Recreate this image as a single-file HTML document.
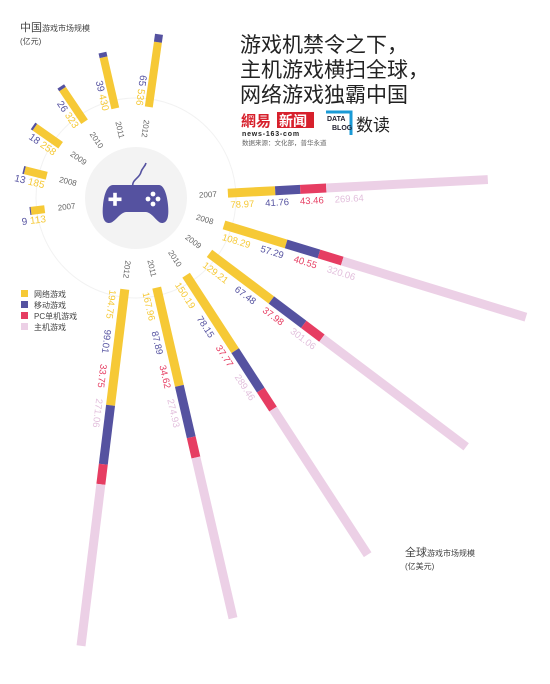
<!DOCTYPE html>
<html><head><meta charset="utf-8">
<style>
html,body{margin:0;padding:0;background:#fff;width:550px;height:684px;overflow:hidden}
svg{display:block;font-family:"Liberation Sans","Noto Sans CJK SC",sans-serif}
</style></head><body>
<svg id="chart" width="550" height="684" viewBox="0 0 550 684" xmlns="http://www.w3.org/2000/svg">
  <circle cx="136" cy="198" r="100" fill="none" stroke="#f2f2f2" stroke-width="1"/>
  <circle cx="136" cy="198" r="51" fill="#f3f3f3"/>
  <g>
    <path d="M133 187 C131 180 140 178 141 172 C142 168 145 167 146 163" fill="none" stroke="#5552a0" stroke-width="1.6"/>
    <path d="M113 185 L159 185 C164 185 167 195 168 205 C169 215 168 223 162 223 C157 223 153 213 146 212 L126 212 C119 213 115 223 109 223 C103 223 102 215 103 205 C104 195 107 185 113 185 Z" fill="#5552a0"/>
    <rect x="108.5" y="197.5" width="13" height="3.6" fill="#fff"/>
    <rect x="113.2" y="192.8" width="3.6" height="13" fill="#fff"/>
    <circle cx="153" cy="194" r="2.4" fill="#fff"/>
    <circle cx="148" cy="199" r="2.4" fill="#fff"/>
    <circle cx="158" cy="199" r="2.4" fill="#fff"/>
    <circle cx="153" cy="204" r="2.4" fill="#fff"/>
  </g>
  <g id="global"></g>
  <g id="china"></g>

  <text x="20" y="31" font-size="11" fill="#444">中国<tspan font-size="8">游戏市场规模</tspan></text>
  <text x="20" y="44" font-size="8" fill="#444">(亿元)</text>

  <text x="405" y="556" font-size="11" fill="#444">全球<tspan font-size="8">游戏市场规模</tspan></text>
  <text x="405" y="569" font-size="8" fill="#444">(亿美元)</text>

  <g font-size="21" fill="#222">
    <text x="240" y="52">游戏机禁令之下，</text>
    <text x="240" y="77">主机游戏横扫全球，</text>
    <text x="240" y="102">网络游戏独霸中国</text>
  </g>
  <g>
    <text x="241" y="126" font-size="15" font-weight="bold" fill="#d7202c">網易</text>
    <rect x="277" y="112" width="37" height="16" fill="#d7202c"/>
    <text x="279" y="126" font-size="14" font-weight="bold" fill="#fff">新闻</text>
    <text x="242" y="136" font-size="7" font-weight="bold" fill="#222" letter-spacing="0.8">news-163-com</text>
  </g>
  <g>
    <path d="M326 112 L351 112 L351 135" fill="none" stroke="#1a9ad6" stroke-width="3"/>
    <text x="327" y="121" font-size="7" font-weight="bold" fill="#223">DATA</text>
    <text x="332" y="130" font-size="7" font-weight="bold" fill="#223">BLOG</text>
    <text x="356" y="131" font-size="17" fill="#222">数读</text>
  </g>
  <text x="242" y="145" font-size="6.5" fill="#666">数据来源：文化部，普华永道</text>

  <g font-size="8" fill="#444">
    <rect x="21" y="290" width="7" height="7" fill="#f6c936"/><text x="34" y="297">网络游戏</text>
    <rect x="21" y="301" width="7" height="7" fill="#5552a0"/><text x="34" y="308">移动游戏</text>
    <rect x="21" y="312" width="7" height="7" fill="#e63d62"/><text x="34" y="319">PC单机游戏</text>
    <rect x="21" y="323" width="7" height="7" fill="#ecd0e6"/><text x="34" y="330">主机游戏</text>
  </g>
</svg>
<script>
var years = ['2007','2008','2009','2010','2011','2012'];
var onlineGlobal = [78.97,108.29,129.21,150.19,167.96,194.75];
var mobileGlobal = [41.76,57.29,67.48,78.15,87.89,99.01];
var pcGlobal = [43.46,40.55,37.98,37.77,34.62,33.75];
var consoleGlobal = [269.64,320.06,301.06,289.46,274.93,271.06];
var onlineChina = [113,185,258,323,430,536];
var mobileChina = [9,13,18,26,39,65];

var CX=136, CY=198;
var colors=['#f6c936','#5552a0','#e63d62','#ecd0e6'];
var labelColors=['#f6c936','#5552a0','#e63d62','#e2bfdc'];
var NS='http://www.w3.org/2000/svg';
function mk(tag, attrs){var e=document.createElementNS(NS,tag);for(var k in attrs)e.setAttribute(k,attrs[k]);return e;}
function globalAngle(i){return -3+20*i;}
function chinaAngle(i){return 173+21*i;}
function gScale(v){return v*0.6;}
function cScale(v){return v*0.122;}

var g=document.getElementById('global');
years.forEach(function(y,i){
  var a=globalAngle(i);
  var grp=mk('g',{transform:'translate('+CX+','+CY+') rotate('+a+')'});
  
  
  g.appendChild(grp);
  var vals=[onlineGlobal[i],mobileGlobal[i],pcGlobal[i],consoleGlobal[i]];
  var r=92;
  var lx=94;
  vals.forEach(function(v,k){
    var len=gScale(v);
    var seg=mk('rect',{x:r,y:-4.5,width:len,height:9,fill:colors[k]});
    
    
    grp.appendChild(seg);
    var t=mk('text',{x:lx,y:15,'font-size':9.5,fill:labelColors[k]});
    t.textContent=v.toFixed(2);
    
    
    grp.appendChild(t);
    var w=t.getComputedTextLength?t.getComputedTextLength():28;
    if(!w)w=t.textContent.length*5.3;
    lx+=w+11;
    r+=len;
  });
  var yl=mk('text',{x:72,y:3,'font-size':8,fill:'#666','text-anchor':'middle'});
  yl.textContent=y;
  
  
  grp.appendChild(yl);
});

var c=document.getElementById('china');
years.forEach(function(y,i){
  var a=chinaAngle(i);
  var grp=mk('g',{transform:'translate('+CX+','+CY+') rotate('+a+')'});
  
  
  var r=92;
  var l1=cScale(onlineChina[i]), l2=cScale(mobileChina[i]);
  var s1=mk('rect',{x:r,y:-4,width:l1,height:8,fill:colors[0]});
  
  
  grp.appendChild(s1);
  var s2=mk('rect',{x:r+l1,y:-4,width:l2,height:8,fill:colors[1]});
  
  
  grp.appendChild(s2);
  var inner=mk('g',{transform:'rotate(180)'});
  var t=mk('text',{x:-r,y:13,'font-size':10,'text-anchor':'end'});
  var ts1=mk('tspan',{fill:'#5552a0'});ts1.textContent=mobileChina[i]+' ';
  var ts2=mk('tspan',{fill:'#f6c936'});ts2.textContent=String(onlineChina[i]);
  t.appendChild(ts1);t.appendChild(ts2);
  
  
  inner.appendChild(t);
  var yl=mk('text',{x:-70,y:3,'font-size':8,fill:'#666','text-anchor':'middle'});
  yl.textContent=y;
  
  
  inner.appendChild(yl);
  grp.appendChild(inner);
  c.appendChild(grp);
});
</script>
</body></html>
